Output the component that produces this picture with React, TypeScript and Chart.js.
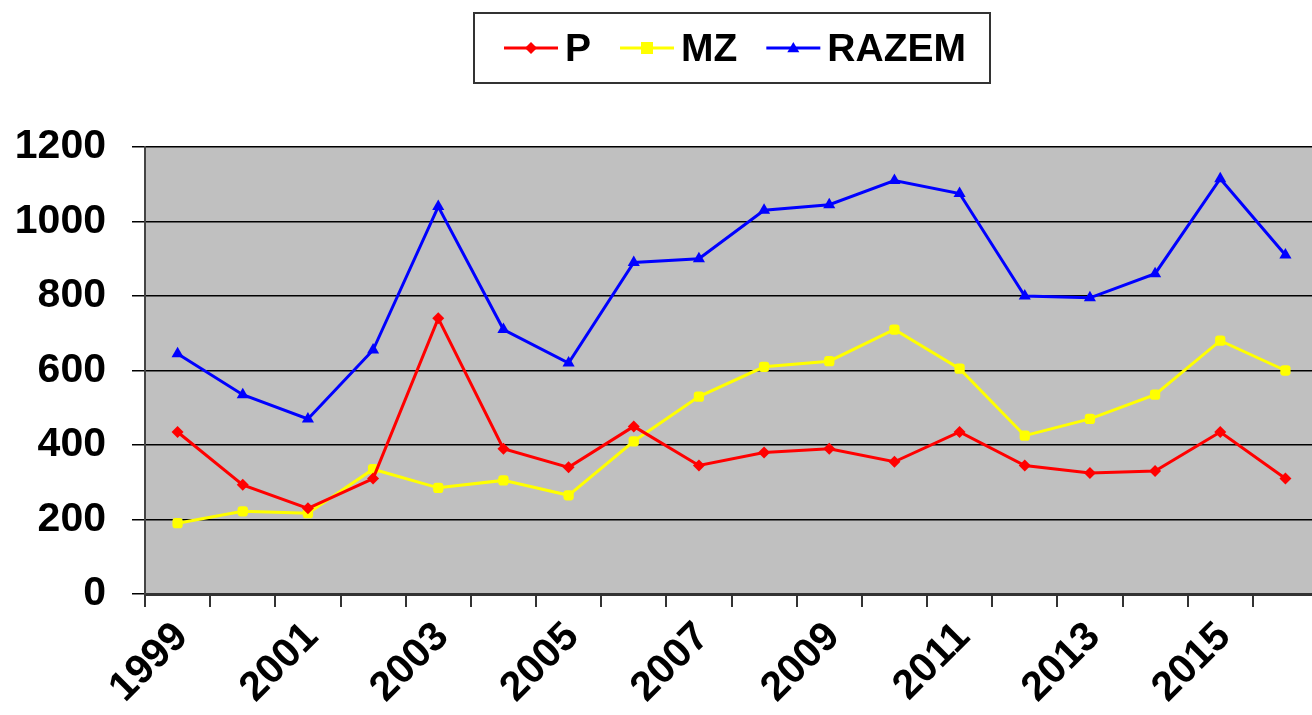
import { useEffect, useRef } from 'react';
import { Chart, registerables } from 'chart.js';

Chart.register(...registerables);

const years = ['1999', '2000', '2001', '2002', '2003', '2004', '2005', '2006', '2007', '2008', '2009', '2010', '2011', '2012', '2013', '2014', '2015', '2016'];
const xTickLabels = ['1999', '2001', '2003', '2005', '2007', '2009', '2011', '2013', '2015'];
const yTickValues = [0, 200, 400, 600, 800, 1000, 1200];

const pValues = [435, 293, 230, 310, 740, 390, 340, 450, 345, 380, 390, 355, 435, 345, 325, 330, 435, 310];
const mzValues = [190, 222, 217, 335, 285, 305, 265, 410, 530, 610, 625, 710, 605, 425, 470, 535, 680, 600];
const razemValues = [645, 535, 470, 655, 1040, 710, 620, 890, 900, 1030, 1045, 1110, 1075, 800, 795, 860, 1115, 910];

const seriesLabels = ['P', 'MZ', 'RAZEM'];
const seriesColors = ['#ff0000', '#ffff00', '#0000ff'];
const seriesMarkers = ['rectRot', 'rectRounded', 'triangle'];

const FONT = '"Liberation Sans", Arial, sans-serif';

function drawMarker(ctx: CanvasRenderingContext2D, style: string, x: number, y: number, r: number, color: string) {
  ctx.save();
  ctx.fillStyle = color;
  ctx.beginPath();
  if (style === 'rectRot') {
    ctx.moveTo(x, y - r);
    ctx.lineTo(x + r, y);
    ctx.lineTo(x, y + r);
    ctx.lineTo(x - r, y);
    ctx.closePath();
  } else if (style === 'triangle') {
    ctx.moveTo(x, y - r);
    ctx.lineTo(x + r, y + r * 0.7);
    ctx.lineTo(x - r, y + r * 0.7);
    ctx.closePath();
  } else {
    ctx.rect(x - r, y - r, 2 * r, 2 * r);
  }
  ctx.fill();
  ctx.restore();
}

export default function App() {
  const ref = useRef<HTMLCanvasElement>(null);

  useEffect(() => {
    const canvas = ref.current!;

    const bgPlugin = {
      id: 'plotBg',
      beforeDraw(chart: any) {
        const { ctx, chartArea: a } = chart;
        ctx.save();
        ctx.fillStyle = '#c0c0c0';
        ctx.fillRect(a.left, a.top, a.right - a.left, a.bottom - a.top);
        ctx.restore();
      },
    };

    const legendPlugin = {
      id: 'boxLegend',
      afterDraw(chart: any) {
        const ctx: CanvasRenderingContext2D = chart.ctx;
        ctx.save();
        ctx.fillStyle = '#ffffff';
        ctx.fillRect(474, 13, 516, 70);
        ctx.strokeStyle = '#333333';
        ctx.lineWidth = 2;
        ctx.strokeRect(474, 13, 516, 70);
        ctx.font = `bold 39px ${FONT}`;
        ctx.textBaseline = 'middle';
        ctx.textAlign = 'left';
        const cy = 48;
        let x = 504;
        chart.data.datasets.forEach((ds: any, i: number) => {
          ctx.strokeStyle = ds.borderColor;
          ctx.lineWidth = 3;
          ctx.beginPath();
          ctx.moveTo(x, cy);
          ctx.lineTo(x + 54, cy);
          ctx.stroke();
          drawMarker(ctx, seriesMarkers[i], x + 27, cy, 6, ds.borderColor);
          ctx.fillStyle = '#000000';
          ctx.fillText(ds.label, x + 61, cy + 2);
          x += 61 + ctx.measureText(ds.label).width + 29;
        });
        ctx.restore();
      },
    };

    const valueSets = [pValues, mzValues, razemValues];

    const chart = new Chart(canvas, {
      type: 'line',
      data: {
        labels: years,
        datasets: valueSets.map((vals, i) => ({
          label: seriesLabels[i],
          data: vals,
          borderColor: seriesColors[i],
          backgroundColor: seriesColors[i],
          borderWidth: 3,
          pointStyle: seriesMarkers[i] as any,
          pointRadius: i === 2 ? 7 : 6,
          pointBorderWidth: 0,
          tension: 0,
          fill: false,
        })),
      },
      options: {
        responsive: false,
        animation: false,
        layout: { padding: { top: 147, left: 0, right: 12, bottom: 0 } },
        plugins: {
          legend: { display: false },
          tooltip: { enabled: false },
        },
        scales: {
          x: {
            offset: true,
            grid: {
              offset: true,
              drawOnChartArea: false,
              drawTicks: true,
              tickLength: 13,
              color: '#333333',
              lineWidth: 2,
            },
            border: { color: '#333333', width: 3 },
            ticks: {
              autoSkip: false,
              maxRotation: 45,
              minRotation: 45,
              padding: 6,
              labelOffset: 4,
              color: '#000000',
              font: { family: FONT, size: 41, weight: 'bold' },
              callback: (_v: any, i: number) => (xTickLabels.includes(years[i]) ? years[i] : ''),
            },
            afterFit: (s: any) => {
              s.height = 121;
            },
          },
          y: {
            min: 0,
            max: 1200,
            afterBuildTicks: (s: any) => {
              s.ticks = yTickValues.map((v) => ({ value: v }));
            },
            grid: {
              color: '#000000',
              lineWidth: 1.5,
              tickLength: 13,
            },
            border: { color: '#444444', width: 2 },
            ticks: {
              padding: 26,
              color: '#000000',
              font: { family: FONT, size: 41, weight: 'bold' },
              callback: (v: any) => String(v),
            },
            afterFit: (s: any) => {
              s.width = 145;
            },
          },
        },
      } as any,
      plugins: [bgPlugin, legendPlugin],
    });

    return () => chart.destroy();
  }, []);

  return (
    <div style={{ position: 'fixed', left: 0, top: 0, width: 1312, height: 715, overflow: 'hidden', background: '#ffffff' }}>
      <canvas ref={ref} width={1330} height={715} style={{ display: 'block', width: 1330, height: 715 }} />
    </div>
  );
}
